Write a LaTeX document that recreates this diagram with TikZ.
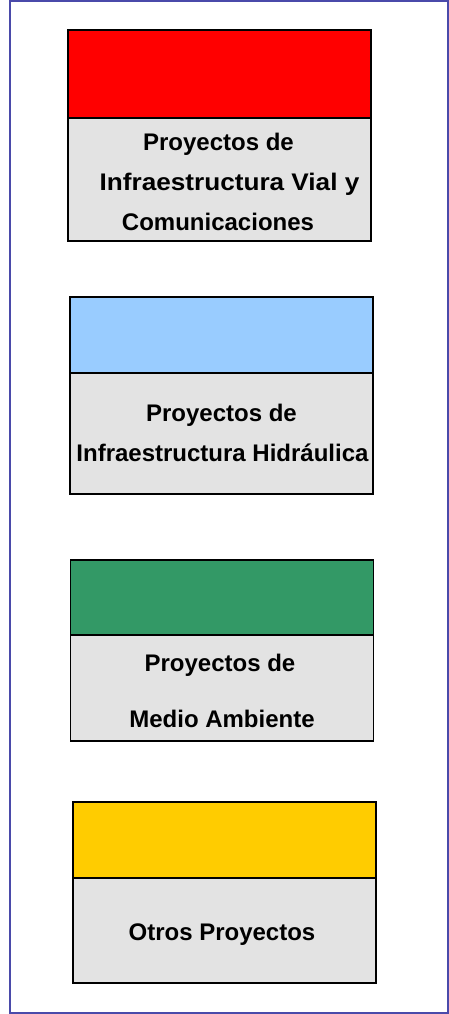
\documentclass[tikz,border=0pt]{standalone}
\usepackage{graphicx}
\usepackage{fontspec}
\setmainfont{Liberation Sans}
\definecolor{frameblue}{HTML}{4A4AAA}
\definecolor{cred}{HTML}{FF0000}
\definecolor{cblue}{HTML}{99CCFF}
\definecolor{cgreen}{HTML}{339966}
\definecolor{cyellow}{HTML}{FFCC00}
\definecolor{cgray}{HTML}{E3E3E3}
\tikzset{
  part/.style={draw=black, line width=1.6pt, rectangle, inner sep=0pt},
  lbl/.style={anchor=base, inner sep=0pt, font=\fontsize{24}{26}\selectfont\bfseries}
}
\begin{document}
\begin{tikzpicture}[x=1pt,y=-1pt]
\useasboundingbox (0,0) rectangle (449,1014);
\node[draw=frameblue, line width=1.3pt, rectangle, inner sep=0pt, minimum width=438pt, minimum height=1012pt] (frame) at (229,507) {};
% Box 1
\node[part, fill=cgray, minimum width=303pt, minimum height=123pt] (b1) at (219.5,179.5) {};
\node[part, fill=cred, minimum width=303pt, minimum height=88pt] (h1) at (219.5,74) {};
\node[lbl] (t1a) at (218.5,150) {Proyectos de};
\node[lbl] (t1b) at (229.5,190) {\scalebox{1.09}[1]{Infraestructura Vial y}};
\node[lbl] (t1c) at (218,230) {Comunicaciones};
% Box 2
\node[part, fill=cgray, minimum width=303pt, minimum height=121pt] (b2) at (221.5,433.5) {};
\node[part, fill=cblue, minimum width=303pt, minimum height=76pt] (h2) at (221.5,335) {};
\node[lbl] (t2a) at (221.5,421) {Proyectos de};
\node[lbl] (t2b) at (222.5,461) {Infraestructura Hidráulica};
% Box 3
\node[part, fill=cgray, minimum width=303pt, minimum height=106pt] (b3) at (222,688) {};
\node[part, fill=cgreen, minimum width=303pt, minimum height=75pt] (h3) at (222,597.5) {};
\node[lbl] (t3a) at (220,671) {Proyectos de};
\node[lbl] (t3b) at (222,727) {Medio Ambiente};
% Box 4
\node[part, fill=cgray, minimum width=303pt, minimum height=105pt] (b4) at (224.5,930.5) {};
\node[part, fill=cyellow, minimum width=303pt, minimum height=76pt] (h4) at (224.5,840) {};
\node[lbl] (t4a) at (222,940) {Otros Proyectos};
\end{tikzpicture}
\end{document}
